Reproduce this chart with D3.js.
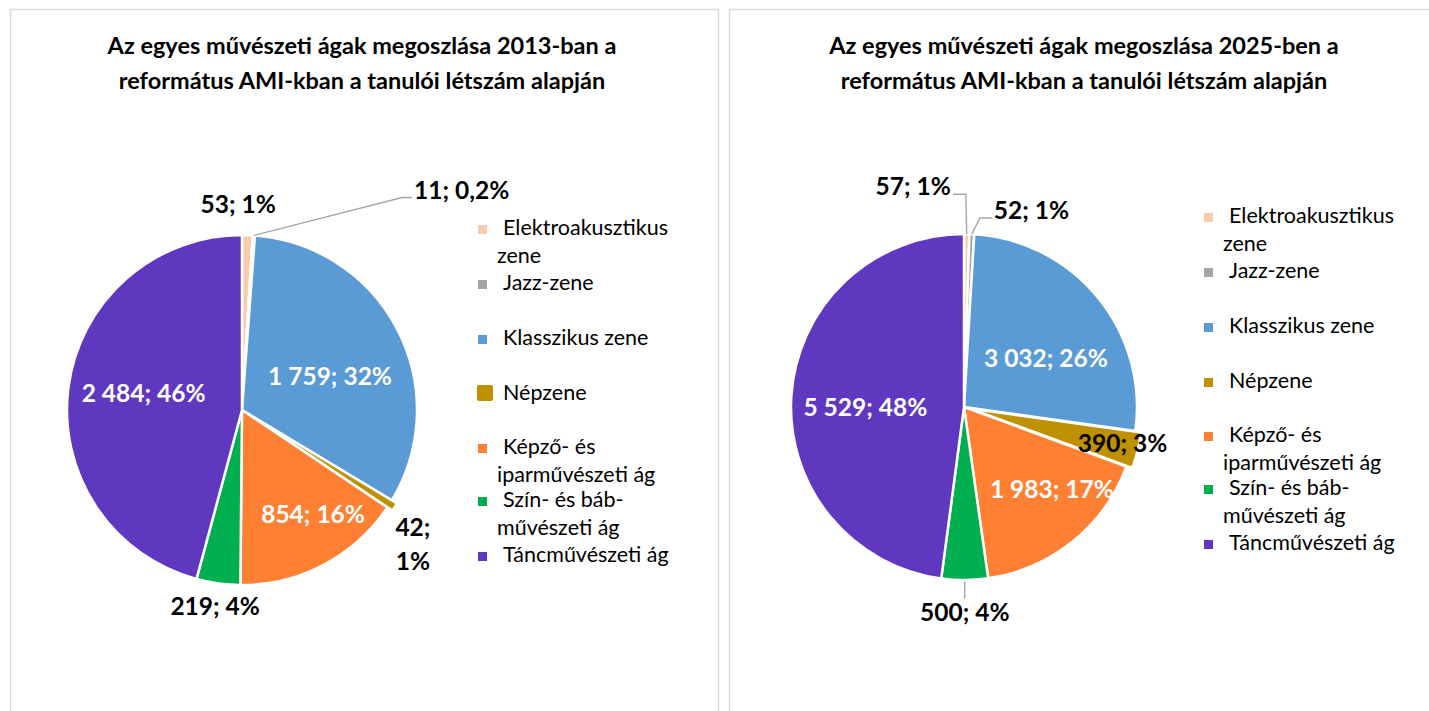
<!DOCTYPE html>
<html>
<head>
<meta charset="utf-8">
<script src="https://cdn.jsdelivr.net/npm/d3@7"></script>
<style>
  body { margin: 0; background: #fff; }
  svg { display: block; font-family: Lato, "Noto Sans", sans-serif; }
</style>
</head>
<body>
<svg id="chart" width="1429" height="711"></svg>
<script>
// categories and values
const categories = ["Elektroakusztikus zene", "Jazz-zene", "Klasszikus zene", "Népzene",
  "Képző- és iparművészeti ág", "Szín- és bábművészeti ág", "Táncművészeti ág"];
const legendLines = [["Elektroakusztikus", "zene"], ["Jazz-zene"], ["Klasszikus zene"], ["Népzene"],
  ["Képző- és", "iparművészeti ág"], ["Szín- és báb-", "művészeti ág"], ["Táncművészeti ág"]];
const colors = ["#f8cbad", "#a5a5a5", "#5b9bd5", "#bf9000", "#ff8033", "#00b050", "#6038c0"];

const values2013 = [53, 11, 1759, 42, 854, 219, 2484];
const pct2013 = [1, 0.2, 32, 1, 16, 4, 46];
const values2025 = [57, 52, 3032, 390, 1983, 500, 5529];
const pct2025 = [1, 1, 26, 3, 17, 4, 48];

const title2013 = ["Az egyes művészeti ágak megoszlása 2013-ban a", "református AMI-kban a tanulói létszám alapján"];
const title2025 = ["Az egyes művészeti ágak megoszlása 2025-ben a", "református AMI-kban a tanulói létszám alapján"];

const svg = d3.select("#chart");
const numFmt = d3.formatLocale({ decimal: ",", thousands: "\u00a0", grouping: [3] }).format(",d");
const pctFmt = p => String(p).replace(".", ",") + "%";
const rad = Math.PI / 180;

// panel frames
svg.append("path")
  .attr("d", "M10.5,711 V9.5 H718.5 V711")
  .attr("fill", "none").attr("stroke", "#d9d9d9").attr("stroke-width", 1.5);
svg.append("path")
  .attr("d", "M729.5,711 V9.5 H1429")
  .attr("fill", "none").attr("stroke", "#d9d9d9").attr("stroke-width", 1.5);

function polar(cx, cy, r, a) {
  return [cx + r * Math.sin(a), cy - r * Math.cos(a)];
}

function drawPie(opts) {
  const { values, pcts, title, cx, cy, r, titleX, legendX, legendY, labels, bigMarker } = opts;
  const g = svg.append("g");
  const data = values.map((v, i) => ({ name: categories[i], value: v, pct: pcts[i], i }));

  // title
  g.append("text")
    .attr("x", titleX).attr("y", 54)
    .attr("text-anchor", "middle")
    .attr("font-weight", "bold").attr("font-size", 23.5)
    .selectAll("tspan").data(title).enter().append("tspan")
    .attr("x", titleX).attr("dy", (d, i) => i ? 35 : 0)
    .text(d => d);

  const arcs = d3.pie().sort(null).value(d => d.value)(data);
  const arc = d3.arc().innerRadius(0).outerRadius(r);

  // slices (Népzene pulled out a little)
  g.selectAll("path.slice").data(arcs).enter().append("path")
    .attr("class", "slice")
    .attr("d", arc)
    .attr("transform", d => {
      const mid = (d.startAngle + d.endAngle) / 2;
      const off = d.data.i === 3 ? 6 : 0;
      const [x, y] = polar(cx, cy, off, mid);
      return `translate(${x},${y})`;
    })
    .attr("fill", d => colors[d.data.i])
    .attr("stroke", "#fff").attr("stroke-width", 2.5).attr("stroke-linejoin", "round");

  // data labels
  arcs.forEach(d => {
    const L = labels[d.data.i];
    const mid = (d.startAngle + d.endAngle) / 2;
    const txt = numFmt(d.data.value) + "; " + pctFmt(d.data.pct);
    const lab = g.append("text")
      .attr("font-weight", "bold").attr("font-size", 24.5)
      .attr("fill", L.fill || "#000");
    if (L.leader) {
      const p0 = polar(cx, cy, r * 1.0, mid);
      const p1 = polar(cx, cy, r * L.leader.rf, L.leader.ang * rad);
      const p2 = [p1[0] + L.leader.h, p1[1]];
      g.append("polyline")
        .attr("points", [p0, p1, p2].map(p => p.join(",")).join(" "))
        .attr("fill", "none").attr("stroke", "#a5a5a5").attr("stroke-width", 1.4);
      lab.attr("x", p2[0] + Math.sign(L.leader.h) * 2).attr("y", p2[1] + 1)
        .attr("text-anchor", L.leader.h < 0 ? "end" : "start")
        .text(txt);
      return;
    }
    const [x, y] = polar(cx, cy, r * L.rf, mid + (L.da || 0) * rad);
    if (L.tick) {
      const t0 = polar(cx, cy, r * L.tick[0], mid);
      const t1 = polar(cx, cy, r * L.tick[1], mid);
      g.append("line")
        .attr("x1", t0[0]).attr("y1", t0[1]).attr("x2", t1[0]).attr("y2", t1[1])
        .attr("stroke", "#a5a5a5").attr("stroke-width", 1.4);
    }
    lab.attr("text-anchor", "middle").attr("x", x);
    if (L.split) {
      const parts = [numFmt(d.data.value) + ";", pctFmt(d.data.pct)];
      lab.attr("y", y - 17 + 9)
        .selectAll("tspan").data(parts).enter().append("tspan")
        .attr("x", x).attr("dy", (p, i) => i ? 34 : 0).text(p => p);
    } else {
      lab.attr("y", y + 9).text(txt);
    }
  });

  // legend
  const offsets = [0, 55, 110, 165, 219, 272, 327];
  const item = g.selectAll("g.leg").data(data).enter().append("g")
    .attr("class", "leg")
    .attr("transform", d => `translate(0,${legendY + offsets[d.i]})`);
  item.append("rect")
    .attr("x", d => d.i === bigMarker ? legendX - 1 : legendX)
    .attr("y", d => d.i === bigMarker ? -15 : -10)
    .attr("width", d => d.i === bigMarker ? 16 : 9)
    .attr("height", d => d.i === bigMarker ? 16 : 9)
    .attr("rx", d => d.i === bigMarker ? 2 : 0)
    .attr("fill", d => colors[d.i]);
  item.append("text")
    .attr("font-size", 21.5)
    .selectAll("tspan").data(d => legendLines[d.i]).enter().append("tspan")
    .attr("x", (t, i) => legendX + (i ? 19 : 25))
    .attr("y", (t, i) => i ? 28 : 0)
    .text(t => t);
}

drawPie({
  values: values2013, pcts: pct2013, title: title2013,
  cx: 242, cy: 410, r: 175, titleX: 362,
  legendX: 478, legendY: 235, bigMarker: 3,
  labels: [
    { rf: 1.18, da: -2.8 },
    { leader: { ang: 37, rf: 1.52, h: 10 } },
    { rf: 0.54, da: 6, fill: "#fff" },
    { rf: 1.24, da: 5.6, split: true },
    { rf: 0.72, da: -6.5, fill: "#fff" },
    { rf: 1.13, da: 0 },
    { rf: 0.57, da: 2, fill: "#fff" }
  ]
});

drawPie({
  values: values2025, pcts: pct2025, title: title2025,
  cx: 964, cy: 407, r: 173, titleX: 1084,
  legendX: 1204, legendY: 223, bigMarker: -1,
  labels: [
    { leader: { ang: 0.5, rf: 1.23, h: -13 } },
    { leader: { ang: 4.8, rf: 1.096, h: 12 } },
    { rf: 0.552, da: 8.4, fill: "#fff" },
    { rf: 0.94, da: -1.2 },
    { rf: 0.695, da: -8, fill: "#fff" },
    { rf: 1.185, da: 0, tick: [1.01, 1.105] },
    { rf: 0.57, da: -3.8, fill: "#fff" }
  ]
});
</script>
</body>
</html>
